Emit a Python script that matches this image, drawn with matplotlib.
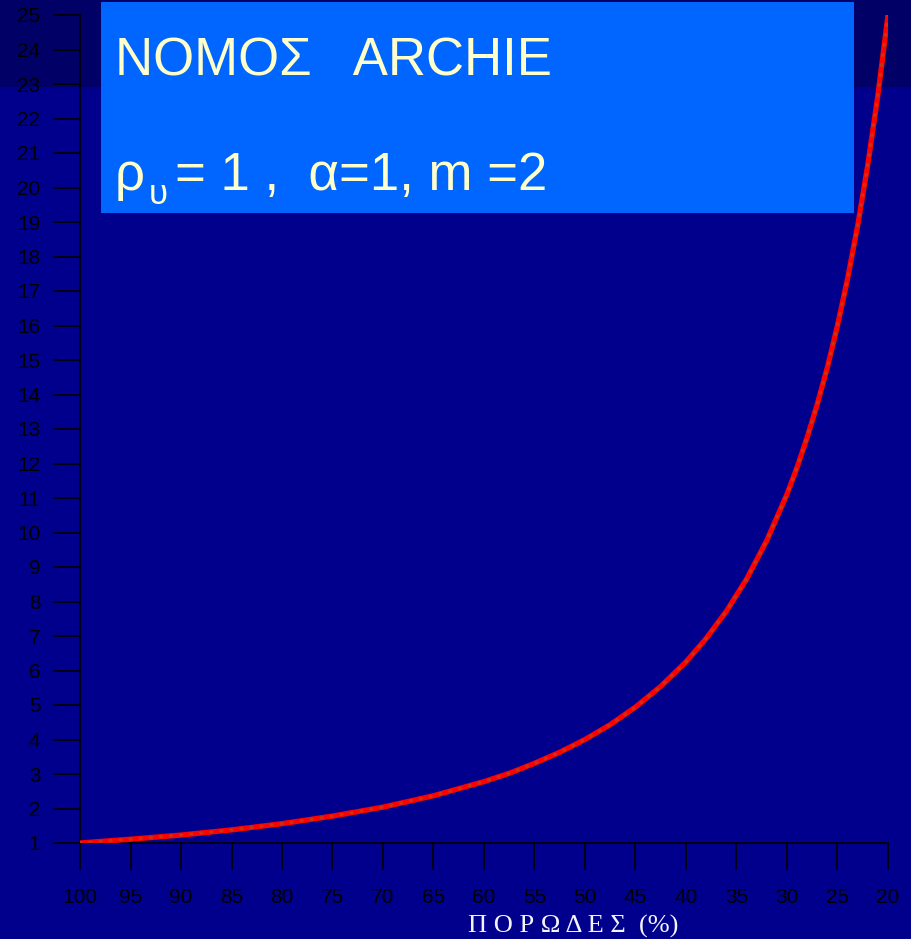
import matplotlib
matplotlib.use('Agg')
import matplotlib.pyplot as plt
from matplotlib.patches import Rectangle

# porosity (%) and formation factor
porosity = [100, 95, 90, 85, 80, 75, 70, 65, 60, 57.5, 55, 52.5, 50, 47.5, 45,
            42.5, 40, 38, 36, 34, 32, 30, 29, 28, 27, 26, 25, 24, 23, 22, 21, 20]
factor = [1.00, 1.11, 1.23, 1.38, 1.56, 1.78, 2.04, 2.37, 2.78, 3.02, 3.31,
          3.63, 4.00, 4.43, 4.94, 5.54, 6.25, 6.93, 7.72, 8.65, 9.77, 11.11,
          11.89, 12.76, 13.72, 14.79, 16.00, 17.36, 18.90, 20.66, 22.68, 25.00]

x_ticks = list(range(100, 15, -5))
y_ticks = list(range(1, 26))

title_1 = 'ΝΟΜΟΣ   ARCHIE'
title_2 = '= 1 ,  α=1, m =2'
x_label = 'Π Ο Ρ Ω Δ Ε Σ  (%)'

W, H = 912, 939
fig = plt.figure(figsize=(W / 100, H / 100), dpi=100, facecolor='#00008c')

# darker band at the top of the slide (behind the axes)
fig.patches.append(Rectangle((0, (H - 87) / H), 1, 87 / H, transform=fig.transFigure,
                             facecolor='#000066', edgecolor='none', zorder=-5))

ax = fig.add_axes([80 / W, (H - 843) / H, 808 / W, 828 / H])
ax.set_zorder(1)
ax.set_facecolor('none')
ax.plot(porosity, factor, color='#ff0000', lw=3.8, solid_capstyle='round', zorder=3)
ax.plot(porosity, factor, color='#cc3010', lw=2.6, linestyle=(0, (0.2, 2.6)),
        dash_capstyle='round', zorder=4)

ax.set_xlim(100, 20)
ax.set_ylim(1, 25)
ax.set_xticks(x_ticks)
ax.set_yticks(y_ticks)
for s in ['top', 'right']:
    ax.spines[s].set_visible(False)
for s in ['left', 'bottom']:
    ax.spines[s].set_color('black')
    ax.spines[s].set_linewidth(1.2)
ax.tick_params(axis='both', direction='out', length=19.5, width=1.2, color='black',
               labelcolor='black', labelsize=15)
ax.tick_params(axis='y', pad=9)
ax.tick_params(axis='x', pad=13)
for lab in ax.get_xticklabels() + ax.get_yticklabels():
    lab.set_family(['Liberation Sans', 'DejaVu Sans'])

# title box (above the axes)
fig.patches.append(Rectangle((101 / W, (H - 213) / H), 753 / W, 211 / H,
                             transform=fig.transFigure, facecolor='#0066ff',
                             edgecolor='none', zorder=5))
sans = ['Liberation Sans', 'DejaVu Sans']
tc = '#ffffcc'
fig.text(115 / W, (H - 75) / H, title_1, color=tc, fontsize=38, family=sans,
         va='baseline', ha='left', zorder=6)
fig.text(115 / W, (H - 190) / H, 'ρ', color=tc, fontsize=38, family=sans,
         va='baseline', ha='left', zorder=6)
fig.text(149 / W, (H - 204) / H, 'υ', color=tc, fontsize=25, family=sans,
         va='baseline', ha='left', zorder=6)
fig.text(175 / W, (H - 190) / H, title_2, color=tc, fontsize=38, family=sans,
         va='baseline', ha='left', zorder=6)

fig.text(573 / W, (H - 933) / H, x_label, color='#f4f4ff', fontsize=19,
         family=['Liberation Serif', 'DejaVu Serif'], ha='center', va='baseline')

fig.savefig('out.png', dpi=100, facecolor=fig.get_facecolor())
